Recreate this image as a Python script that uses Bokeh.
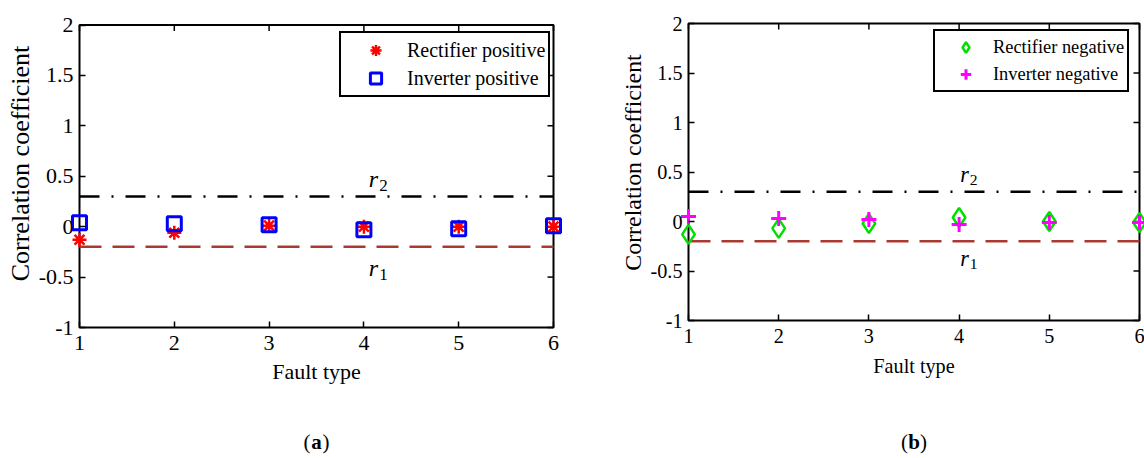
import math

from bokeh.plotting import figure
from bokeh.layouts import row
from bokeh.models import LinearAxis, Range1d, Legend, LegendItem, FixedTicker
from bokeh.core.properties import value
from bokeh.embed import file_html
from bokeh.resources import INLINE

# Fault types on the x axis
fault_type = [1, 2, 3, 4, 5, 6]

# Correlation coefficients, positive pole
rectifier_positive = [-0.13, -0.06, 0.01, 0.0, 0.0, 0.0]
inverter_positive = [0.04, 0.03, 0.02, -0.03, -0.02, 0.01]

# Correlation coefficients, negative pole
rectifier_negative = [-0.13, -0.07, -0.02, 0.04, 0.0, -0.01]
inverter_negative = [0.05, 0.03, 0.02, -0.03, -0.01, -0.01]

# Thresholds
r1 = -0.2
r2 = 0.3

y_ticks = [-1, -0.5, 0, 0.5, 1, 1.5, 2]
y_tick_labels = {-1: "-1", -0.5: "-0.5", 0: "0", 0.5: "0.5", 1: "1", 1.5: "1.5", 2: "2"}

X_MIN, X_MAX = 1, 6
Y_MIN, Y_MAX = -1, 2

FONT = "Liberation Serif"
TICK_LEN = 6


def px(size):
    return f"{size:.1f}px"


def make_panel(width, height, box, caption, series, legend_loc, fs=1.0,
               legend_glyph=(63, 28), legend_spacing=0, r_pos=(4.1, 0.17, -0.21),
               ylabel_pos=(20, 163), xlabel_standoff=6):
    """box = (left, right, top, bottom) of the axes box in canvas pixels."""
    left, right, top, bottom = box
    sx = (right - left) / (X_MAX - X_MIN)
    sy = (bottom - top) / (Y_MAX - Y_MIN)
    x_range = Range1d(X_MIN - left / sx, X_MAX + (width - right) / sx)
    y_range = Range1d(Y_MIN - (height - bottom) / sy, Y_MAX + top / sy)

    def to_data(cx, cy):
        return X_MIN + (cx - left) / sx, Y_MIN - (cy - bottom) / sy

    p = figure(width=width, height=height, output_backend="svg", toolbar_location=None,
               x_range=x_range, y_range=y_range, x_axis_location=None, y_axis_location=None,
               min_border=0)
    p.grid.visible = False
    p.outline_line_color = None
    p.background_fill_color = "white"
    p.border_fill_color = "white"

    # Axes pinned to the edges of the data box
    xa = LinearAxis(fixed_location=Y_MIN, bounds=(X_MIN, X_MAX), ticker=FixedTicker(ticks=fault_type),
                    axis_label="Fault type")
    ya = LinearAxis(fixed_location=X_MIN, bounds=(Y_MIN, Y_MAX), ticker=FixedTicker(ticks=y_ticks),
                    major_label_overrides=y_tick_labels)
    for ax in (xa, ya):
        ax.major_tick_in = TICK_LEN
        ax.major_tick_out = 0
        ax.minor_tick_line_color = None
        ax.axis_line_color = None
        ax.major_tick_line_width = 1.5
        ax.major_tick_line_color = "black"
        ax.major_label_text_font = FONT
        ax.major_label_text_font_size = px(22 * fs)
        ax.major_label_text_color = "black"
    xa.axis_label_text_font = FONT
    xa.axis_label_text_font_style = "normal"
    xa.axis_label_text_color = "black"
    xa.axis_label_text_font_size = px(22 * fs)
    xa.major_label_standoff = 8
    xa.axis_label_standoff = xlabel_standoff
    ya.major_label_standoff = 6
    p.add_layout(xa, "below")
    p.add_layout(ya, "left")

    # Vertical axis title
    lx, ly = to_data(*ylabel_pos)
    p.text(x=[lx], y=[ly], text=["Correlation coefficient"], angle=math.pi / 2,
           text_font=value(FONT), text_font_size=px(26 * fs), text_color="black",
           text_align="center", text_baseline="middle")

    # Axes box
    p.quad(left=[X_MIN], right=[X_MAX], bottom=[Y_MIN], top=[Y_MAX], fill_color=None,
           line_color="black", line_width=2)

    # Inward ticks mirrored on the top and right edges
    p.segment(x0=fault_type, x1=fault_type, y0=[Y_MAX] * len(fault_type),
              y1=[Y_MAX - TICK_LEN / sy] * len(fault_type), line_color="black", line_width=1.5)
    p.segment(x0=[X_MAX] * len(y_ticks), x1=[X_MAX - TICK_LEN / sx] * len(y_ticks),
              y0=y_ticks, y1=y_ticks, line_color="black", line_width=1.5)

    # Threshold lines
    p.line([X_MIN, X_MAX], [r2, r2], line_color="black", line_width=2.5, line_dash="20 12 2 12")
    p.line([X_MIN, X_MAX], [r1, r1], line_color="#a83a32", line_width=2.5, line_dash="22 11")

    # Threshold names r2 / r1
    xr, dy2, dy1 = r_pos
    for val, sub, dy in ((r2, "2", dy2), (r1, "1", dy1)):
        p.text(x=[xr], y=[val + dy], text=["r"], text_font=value(FONT), text_font_size=px(24 * fs),
               text_font_style="italic", text_align="center", text_baseline="middle")
        p.text(x=[xr], y=[val + dy], text=[sub], x_offset=10 * fs, y_offset=6 * fs,
               text_font=value(FONT), text_font_size=px(17 * fs),
               text_align="center", text_baseline="middle")

    # Caption below the panel
    cx, cy = to_data((left + right) / 2, 441)
    p.text(x=[cx], y=[cy], text=["("], x_offset=-6, text_font=value(FONT), text_font_size="21px",
           text_align="right", text_baseline="middle")
    p.text(x=[cx], y=[cy], text=[caption], text_font=value(FONT), text_font_size="21px",
           text_font_style="bold", text_align="center", text_baseline="middle")
    p.text(x=[cx], y=[cy], text=[")"], x_offset=6, text_font=value(FONT), text_font_size="21px",
           text_align="left", text_baseline="middle")

    # Data markers
    items = []
    for label, ys, kw in series:
        r = p.scatter(fault_type, ys, **kw)
        items.append(LegendItem(label=label, renderers=[r]))

    gw, gh = legend_glyph
    leg = Legend(items=items, location=legend_loc,
                 label_text_font=FONT, label_text_font_size=px(20 * fs), label_text_color="black",
                 glyph_width=gw, glyph_height=gh, label_standoff=0,
                 label_height=gh, spacing=legend_spacing, padding=3, margin=0,
                 border_line_color="black", border_line_width=2, border_line_alpha=1.0,
                 background_fill_color="white", background_fill_alpha=1.0)
    p.add_layout(leg, "center")
    return p


# Panel (a): positive pole
pa = make_panel(
    600, 458, (79, 553, 24.5, 327), "a",
    [("Rectifier positive", rectifier_positive,
      dict(marker="asterisk", size=14, line_color="red", line_width=2.5)),
     ("Inverter positive", inverter_positive,
      dict(marker="square", size=14, line_color="blue", fill_color=None, line_width=3))],
    (339, 361),
)

# Panel (b): negative pole
pb = make_panel(
    544, 458, (88, 539, 23, 320), "b",
    [("Rectifier negative", rectifier_negative,
      dict(marker="diamond", size=19, line_color="#00e000", fill_color=None, line_width=2.5)),
     ("Inverter negative", inverter_negative,
      dict(marker="cross", size=15, line_color="magenta", line_width=3))],
    (333, 366), fs=0.92, legend_glyph=(55, 26), legend_spacing=1, r_pos=(4.06, 0.17, -0.17),
    ylabel_pos=(32, 162), xlabel_standoff=9,
)

layout = row(pa, pb)
open("out.html", "w").write(file_html(layout, INLINE))
